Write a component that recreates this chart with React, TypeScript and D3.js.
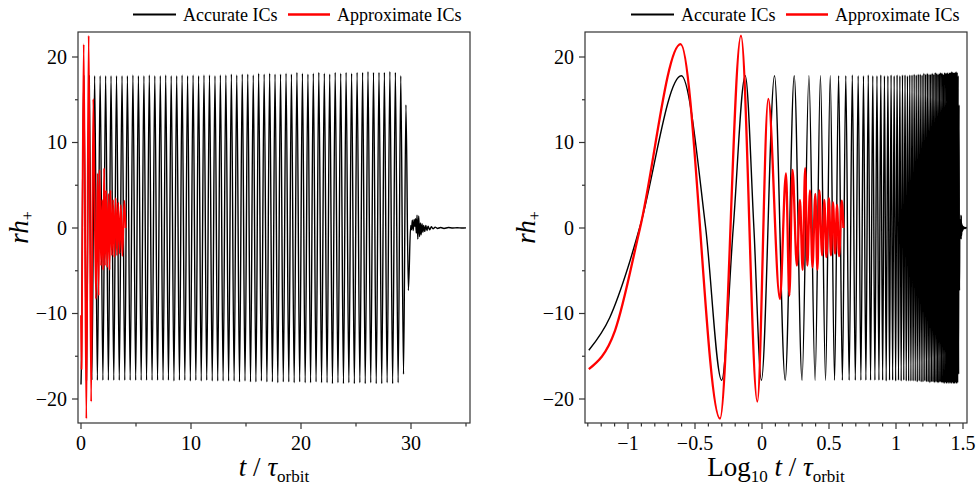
import React from 'react';
import * as d3 from 'd3';

// Accurate ICs: extrema / sample points (t in orbits, rh+)
const accT = [
  0, 0.051, 0.073, 0.1, 0.122, 0.25, 0.38, 0.5, 0.61, 0.75, 0.87, 0.99,
  1.24, 1.49, 1.74, 1.99, 2.24, 2.49, 2.73, 2.98, 3.23, 3.48, 3.73, 3.98,
  4.22, 4.47, 4.72, 4.97, 5.22, 5.47, 5.72, 5.96, 6.21, 6.46, 6.71, 6.96,
  7.21, 7.46, 7.7, 7.95, 8.2, 8.45, 8.7, 8.95, 9.19, 9.44, 9.69, 9.94,
  10.19, 10.44, 10.69, 10.93, 11.18, 11.43, 11.68, 11.93, 12.18, 12.43, 12.67, 12.92,
  13.17, 13.42, 13.67, 13.92, 14.16, 14.41, 14.66, 14.91, 15.16, 15.41, 15.66, 15.9,
  16.15, 16.4, 16.65, 16.9, 17.15, 17.4, 17.64, 17.89, 18.14, 18.39, 18.64, 18.89,
  19.13, 19.38, 19.63, 19.88, 20.13, 20.38, 20.63, 20.87, 21.12, 21.37, 21.62, 21.87,
  22.12, 22.37, 22.61, 22.86, 23.11, 23.36, 23.61, 23.86, 24.1, 24.35, 24.6, 24.85,
  25.1, 25.35, 25.6, 25.84, 26.09, 26.34, 26.59, 26.84, 27.09, 27.34, 27.58, 27.83,
  28.08, 28.33, 28.58, 28.83, 29.07, 29.32, 29.54, 29.76, 29.97,
  30.05, 30.12, 30.2, 30.28, 30.35, 30.42, 30.48, 30.55, 30.62, 30.7, 30.78, 30.85,
  30.92, 31.0, 31.08, 31.15, 31.25, 31.35, 31.45, 31.55, 31.7, 31.85, 32.0, 32.2,
  32.4, 32.7, 33.0, 33.4, 33.8, 34.2, 34.6, 35.0
];
const accH = [
  -18.3, -14.3, -10.5, -4.6, 0, 17.8, 0, -17.8, 0, 17.8, 0, -17.8,
  17.8, -17.8, 17.8, -17.8, 17.8, -17.8, 17.8, -17.8, 17.8, -17.8, 17.8, -17.8,
  17.8, -17.8, 17.9, -17.8, 17.8, -17.8, 17.8, -17.8, 17.9, -17.8, 17.8, -17.8,
  17.8, -17.8, 17.9, -17.8, 17.8, -17.9, 17.8, -17.8, 17.9, -17.8, 17.8, -17.9,
  17.9, -17.8, 17.8, -17.9, 17.9, -17.8, 17.9, -17.9, 17.8, -17.9, 17.9, -17.9,
  17.9, -17.9, 18.0, -17.9, 17.9, -18.0, 18.0, -17.9, 18.0, -18.0, 17.9, -18.0,
  18.1, -17.9, 18.0, -18.0, 18.1, -18.0, 18.0, -18.1, 18.0, -18.0, 18.1, -18.0,
  18.0, -18.1, 18.2, -18.0, 18.1, -18.1, 18.0, -18.1, 18.1, -18.0, 18.2, -18.1,
  18.1, -18.1, 18.0, -18.2, 18.2, -18.1, 18.1, -18.2, 18.2, -18.1, 18.1, -18.2,
  18.2, -18.1, 18.2, -18.2, 18.3, -18.1, 18.2, -18.2, 18.2, -18.2, 18.2, -18.1,
  18.3, -18.2, 18.2, -18.1, 17.8, -17.1, 14.4, -7.3, 0.3,
  -0.2, 0.9, -0.3, 1.0, 0.2, 1.1, -0.6, 1.5, -1.3, 1.4, -1.0, 0.6,
  -0.8, 0.5, -0.5, 0.3, -0.4, 0.3, -0.3, 0.2, -0.2, 0.15, -0.1, 0.1,
  -0.05, 0.05, -0.05, 0.05, 0, 0.03, 0, 0.02
];

// Approximate ICs
const appT = [
  0, 0.051, 0.08, 0.123, 0.247, 0.486, 0.697, 0.923, 1.114, 1.36, 1.51,
  1.6, 1.69, 1.82, 1.92, 2.01, 2.1, 2.18, 2.28, 2.38, 2.5, 2.59, 2.68,
  2.81, 2.92, 3.02, 3.16, 3.27, 3.39, 3.51, 3.63, 3.76, 3.94, 4.05
];
const appH = [
  -10.2, -16.5, -12.0, 0, 21.5, -22.3, 22.5, -20.3, 15.1, -8.3, 6.4,
  -7.9, 6.8, -4.4, 3.3, -4.9, 7.0, -4.4, 4.4, -4.6, 4.0, -4.9, 4.4,
  -3.2, 3.3, -3.4, 3.5, -3.2, 3.0, -3.0, 2.7, -3.3, 3.2, 0
];

const leftXTicks = [0, 10, 20, 30];
const leftXMinor = [5, 15, 25, 35];
const yTicks = [-20, -10, 0, 10, 20];
const yMinor = [-15, -5, 5, 15];
const rightXTicks = [-1, -0.5, 0, 0.5, 1, 1.5];
const rightXMinor = [-1.3, -1.2, -1.1, -0.9, -0.8, -0.7, -0.6, -0.4, -0.3, -0.2, -0.1,
  0.1, 0.2, 0.3, 0.4, 0.6, 0.7, 0.8, 0.9, 1.1, 1.2, 1.3, 1.4];
const seriesNames = ['Accurate ICs', 'Approximate ICs'];
const seriesColors = ['#000000', '#ff0000'];

const FONT = '"Liberation Serif", "Times New Roman", Times, serif';
const TOP = 32;
const BOTTOM = 423;

const fmt = (v: number) => (v < 0 ? '\u2212' + String(-v) : String(v));

function Legend({ x }: { x: number }) {
  return (
    <g fontFamily={FONT} fontSize={18}>
      <line x1={x} x2={x + 43} y1={14.5} y2={14.5} stroke={seriesColors[0]} strokeWidth={2} />
      <text x={x + 50} y={21}>{seriesNames[0]}</text>
      <line x1={x + 155} x2={x + 197} y1={14.5} y2={14.5} stroke={seriesColors[1]} strokeWidth={2.5} />
      <text x={x + 204} y={21}>{seriesNames[1]}</text>
    </g>
  );
}

function Panel(props: {
  id: string;
  left: number;
  right: number;
  xScale: d3.ScaleLinear<number, number>;
  majors: number[];
  minors: number[];
  xfn: (t: number) => number;
  valid: (t: number) => boolean;
  blackW: number;
  redW: number;
  xLabel: React.ReactNode;
}) {
  const { id, left, right, xScale, majors, minors, xfn, valid, blackW, redW, xLabel } = props;
  const y = d3.scaleLinear().domain([-20, 20]).range([399, 57]);
  const line = d3
    .line<[number, number]>()
    .x((d) => xScale(xfn(d[0])))
    .y((d) => y(d[1]))
    .curve(d3.curveMonotoneX);
  const acc = accT.map((t, i) => [t, accH[i]] as [number, number]).filter((d) => valid(d[0]));
  const app = appT.map((t, i) => [t, appH[i]] as [number, number]).filter((d) => valid(d[0]));
  const axisColor = '#333';
  return (
    <g>
      <defs>
        <clipPath id={id}>
          <rect x={left} y={TOP} width={right - left} height={BOTTOM - TOP} />
        </clipPath>
      </defs>
      <g clipPath={`url(#${id})`}>
        <path d={line(acc) || ''} fill="none" stroke={seriesColors[0]} strokeWidth={blackW} strokeLinejoin="round" />
        <path d={line(app) || ''} fill="none" stroke={seriesColors[1]} strokeWidth={redW} strokeLinejoin="round" />
      </g>
      <rect x={left} y={TOP} width={right - left} height={BOTTOM - TOP} fill="none" stroke={axisColor} strokeWidth={1.2} />
      {yTicks.map((v) => (
        <g key={'y' + v}>
          <line x1={left - 6} x2={left} y1={y(v)} y2={y(v)} stroke={axisColor} strokeWidth={1.2} />
          <text x={left - 11} y={y(v) + 6.5} textAnchor="end" fontFamily={FONT} fontSize={20}>{fmt(v)}</text>
        </g>
      ))}
      {yMinor.map((v) => (
        <line key={'ym' + v} x1={left - 3} x2={left} y1={y(v)} y2={y(v)} stroke={axisColor} strokeWidth={1.2} />
      ))}
      {majors.map((v) => (
        <g key={'x' + v}>
          <line x1={xScale(v)} x2={xScale(v)} y1={BOTTOM} y2={BOTTOM + 6} stroke={axisColor} strokeWidth={1.2} />
          <text x={xScale(v)} y={450} textAnchor="middle" fontFamily={FONT} fontSize={20}>{fmt(v)}</text>
        </g>
      ))}
      {minors.map((v) => (
        <line key={'xm' + v} x1={xScale(v)} x2={xScale(v)} y1={BOTTOM} y2={BOTTOM + 3.5} stroke={axisColor} strokeWidth={1.2} />
      ))}
      <text x={(left + right) / 2} y={476} textAnchor="middle" fontFamily={FONT} fontSize={27}>{xLabel}</text>
      <text transform={`translate(${left - 50},${(TOP + BOTTOM) / 2}) rotate(-90)`} textAnchor="middle" fontFamily={FONT} fontSize={27}>
        <tspan fontStyle="italic">rh</tspan>
        <tspan fontSize={16} dy={5}>+</tspan>
      </text>
    </g>
  );
}

export default function App() {
  const xL = d3.scaleLinear().domain([0, 30]).range([81, 411]);
  const xR = d3.scaleLinear().domain([-1, 1.5]).range([628, 963]);
  return (
    <svg width={976} height={486} style={{ position: 'absolute', left: 0, top: 0, background: '#fff' }}>
      <rect width={976} height={486} fill="#fff" />
      <Legend x={133} />
      <Legend x={631} />
      <Panel
        id="clipL"
        left={78}
        right={470}
        xScale={xL}
        majors={leftXTicks}
        minors={leftXMinor}
        xfn={(t) => t}
        valid={() => true}
        blackW={1.4}
        redW={1.8}
        xLabel={
          <>
            <tspan fontStyle="italic">t</tspan>
            <tspan> / </tspan>
            <tspan fontStyle="italic">τ</tspan>
            <tspan fontSize={17} dy={6}>orbit</tspan>
          </>
        }
      />
      <Panel
        id="clipR"
        left={585}
        right={967}
        xScale={xR}
        majors={rightXTicks}
        minors={rightXMinor}
        xfn={(t) => Math.log10(t)}
        valid={(t) => t > 0}
        blackW={1.4}
        redW={2.3}
        xLabel={
          <>
            <tspan>Log</tspan>
            <tspan fontSize={17} dy={6}>10</tspan>
            <tspan dy={-6} fontStyle="italic"> t</tspan>
            <tspan> / </tspan>
            <tspan fontStyle="italic">τ</tspan>
            <tspan fontSize={17} dy={6}>orbit</tspan>
          </>
        }
      />
    </svg>
  );
}
